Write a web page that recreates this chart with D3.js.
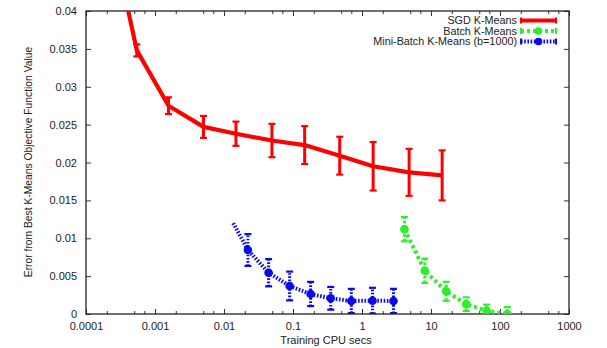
<!DOCTYPE html>
<html>
<head>
<meta charset="utf-8">
<script src="https://cdn.jsdelivr.net/npm/d3@7"></script>
<style>
    body { margin: 0; background: #fff; }
    svg text { font-family: "Liberation Sans", Arial, sans-serif; fill: #222; }
</style>
</head>
<body>
<div id="chart"></div>
<script>
// x = training CPU secs, y = error from best objective, bar = +/- error bar
const sgdSecs = [0.00018, 0.000545, 0.00157, 0.00505, 0.0149, 0.0495, 0.1475, 0.475, 1.45, 4.82, 14.5];
const sgdErr = [0.055, 0.0348, 0.0275, 0.0247, 0.0238, 0.0229, 0.0223, 0.0209, 0.0195, 0.0187, 0.0183];
const sgdBar = [0.0008, 0.0008, 0.0011, 0.00145, 0.0016, 0.0022, 0.0025, 0.0025, 0.0032, 0.0031, 0.0033];

const batchSecs = [4.12, 8.13, 16.6, 32.4, 64, 128];
const batchErr = [0.0112, 0.0057, 0.0030, 0.0013, 0.00044, 0.0];
const batchBar = [0.0016, 0.0016, 0.00125, 0.0009, 0.0008, 0.0009];

// first mini-batch point has no marker / bar in the original
const miniSecs = [0.0136, 0.0222, 0.0443, 0.0893, 0.180, 0.352, 0.70, 1.42, 2.86];
const miniErr = [0.0120, 0.00845, 0.00545, 0.0037, 0.00264, 0.00207, 0.00172, 0.00176, 0.00172];
const miniBar = [null, 0.0021, 0.0018, 0.0019, 0.0016, 0.0015, 0.0016, 0.0017, 0.0016];

const xTickVals = [0.0001, 0.001, 0.01, 0.1, 1, 10, 100, 1000];
const xTickLabels = ["0.0001", "0.001", "0.01", "0.1", "1", "10", "100", "1000"];
const yTickVals = [0, 0.005, 0.01, 0.015, 0.02, 0.025, 0.03, 0.035, 0.04];
const yTickLabels = ["0", "0.005", "0.01", "0.015", "0.02", "0.025", "0.03", "0.035", "0.04"];

const seriesNames = ["SGD K-Means", "Batch K-Means", "Mini-Batch K-Means (b=1000)"];

const CHART = {
    width: 607,
    height: 348,
    margins: {top: 11, right: 38, bottom: 34, left: 86},

    series: [
        {secs: sgdSecs, err: sgdErr, bar: sgdBar, color: "#ff0000", width: 4.2, dash: null, barDash: null, marker: 0},
        {secs: batchSecs, err: batchErr, bar: batchBar, color: "#2af02a", width: 4, dash: "3,3", barDash: "2.5,2", marker: 4.3},
        {secs: miniSecs, err: miniErr, bar: miniBar, color: "#0a0aee", width: 4, dash: "1.6,1.6", barDash: "1.6,1.6", marker: 4.3}
    ]
};

const svg = d3.select("#chart").append("svg")
    .attr("width", CHART.width)
    .attr("height", CHART.height);

const m = CHART.margins;
const plotW = CHART.width - m.left - m.right;
const plotH = CHART.height - m.top - m.bottom;

const x = d3.scaleLog().domain([0.0001, 1000]).range([m.left, m.left + plotW]);
const y = d3.scaleLinear().domain([0, 0.04]).range([m.top + plotH, m.top]);

svg.append("clipPath").attr("id", "plotClip")
    .append("rect")
    .attr("x", m.left).attr("y", m.top)
    .attr("width", plotW).attr("height", plotH);

//minor ticks on the log axis
const minorVals = [];
xTickVals.slice(0, -1).forEach(v => [2, 5, 7].forEach(k => minorVals.push(v * k)));

//bottom and top axes, ticks pointing inward
const xBottom = d3.axisBottom(x).tickValues(xTickVals)
    .tickFormat((d, i) => xTickLabels[i]).tickSizeInner(-5).tickSizeOuter(0).tickPadding(8);
svg.append("g").attr("transform", `translate(0,${m.top + plotH})`).call(xBottom);
const xTop = d3.axisTop(x).tickValues(xTickVals).tickFormat("").tickSizeInner(-5).tickSizeOuter(0);
svg.append("g").attr("transform", `translate(0,${m.top})`).call(xTop);
const xMinorB = d3.axisBottom(x).tickValues(minorVals).tickFormat("").tickSizeInner(-3).tickSizeOuter(0);
const xMinorT = d3.axisTop(x).tickValues(minorVals).tickFormat("").tickSizeInner(-3).tickSizeOuter(0);
svg.append("g").attr("transform", `translate(0,${m.top + plotH})`).call(xMinorB);
svg.append("g").attr("transform", `translate(0,${m.top})`).call(xMinorT);

const yLeft = d3.axisLeft(y).tickValues(yTickVals)
    .tickFormat((d, i) => yTickLabels[i]).tickSizeInner(-5).tickSizeOuter(0).tickPadding(9);
svg.append("g").attr("transform", `translate(${m.left},0)`).call(yLeft);
const yRight = d3.axisRight(y).tickValues(yTickVals).tickFormat("").tickSizeInner(-5).tickSizeOuter(0);
svg.append("g").attr("transform", `translate(${m.left + plotW},0)`).call(yRight);

svg.selectAll(".domain").remove();
svg.selectAll(".tick line").attr("stroke", "#333").attr("stroke-width", 1);
svg.selectAll(".tick text").style("font-size", "11px");

//frame
svg.append("rect")
    .attr("x", m.left).attr("y", m.top)
    .attr("width", plotW).attr("height", plotH)
    .attr("fill", "none").attr("stroke", "#222").attr("stroke-width", 1.3);

//axis titles
svg.append("text")
    .attr("x", 326).attr("y", CHART.height - 4)
    .attr("text-anchor", "middle").style("font-size", "11px")
    .text("Training CPU secs");
svg.append("text")
    .attr("transform", "rotate(-90)")
    .attr("x", -162).attr("y", 32)
    .attr("text-anchor", "middle").style("font-size", "10.3px")
    .text("Error from Best K-Means Objective Function Value");

//series
const plot = svg.append("g").attr("clip-path", "url(#plotClip)");
const line = d3.line().x(d => x(d.s)).y(d => y(d.e));

CHART.series.forEach(s => {
    const pts = s.secs.map((v, i) => ({s: v, e: s.err[i], b: s.bar[i]}));
    const g = plot.append("g");

    g.append("path").datum(pts)
        .attr("d", line)
        .attr("fill", "none")
        .attr("stroke", s.color)
        .attr("stroke-width", s.width)
        .attr("stroke-linejoin", "round")
        .attr("stroke-dasharray", s.dash);

    const withBar = pts.filter(d => d.b !== null);
    //error bars with caps
    withBar.forEach(d => {
        const cx = x(d.s);
        g.append("line")
            .attr("x1", cx).attr("x2", cx)
            .attr("y1", y(d.e - d.b)).attr("y2", y(d.e + d.b))
            .attr("stroke", s.color).attr("stroke-width", 3)
            .attr("stroke-dasharray", s.barDash);
        [d.e - d.b, d.e + d.b].forEach(v => {
            g.append("line")
                .attr("x1", cx - 3.5).attr("x2", cx + 3.5)
                .attr("y1", y(v)).attr("y2", y(v))
                .attr("stroke", s.color).attr("stroke-width", 2.2);
        });
    });

    if(s.marker > 0){
        g.selectAll("circle").data(withBar).join("circle")
            .attr("cx", d => x(d.s))
            .attr("cy", d => y(d.e))
            .attr("r", s.marker)
            .attr("fill", s.color);
    }
});

//legend
const legX = 517;
const legY = [20.5, 31, 41.5];
CHART.series.forEach((s, i) => {
    const ly = legY[i];
    svg.append("text")
        .attr("x", legX).attr("y", ly + 3.8)
        .attr("text-anchor", "end").style("font-size", "10.8px")
        .text(seriesNames[i]);
    svg.append("line")
        .attr("x1", legX + 4).attr("x2", legX + 39)
        .attr("y1", ly).attr("y2", ly)
        .attr("stroke", s.color).attr("stroke-width", s.width)
        .attr("stroke-dasharray", s.dash);
    [legX + 4, legX + 39].forEach(ex => {
        svg.append("line")
            .attr("x1", ex).attr("x2", ex)
            .attr("y1", ly - 3).attr("y2", ly + 3)
            .attr("stroke", s.color).attr("stroke-width", 2);
    });
    if(s.marker > 0){
        svg.append("circle")
            .attr("cx", legX + 21.5).attr("cy", ly)
            .attr("r", s.marker - 0.5)
            .attr("fill", s.color);
    }
});
</script>
</body>
</html>
